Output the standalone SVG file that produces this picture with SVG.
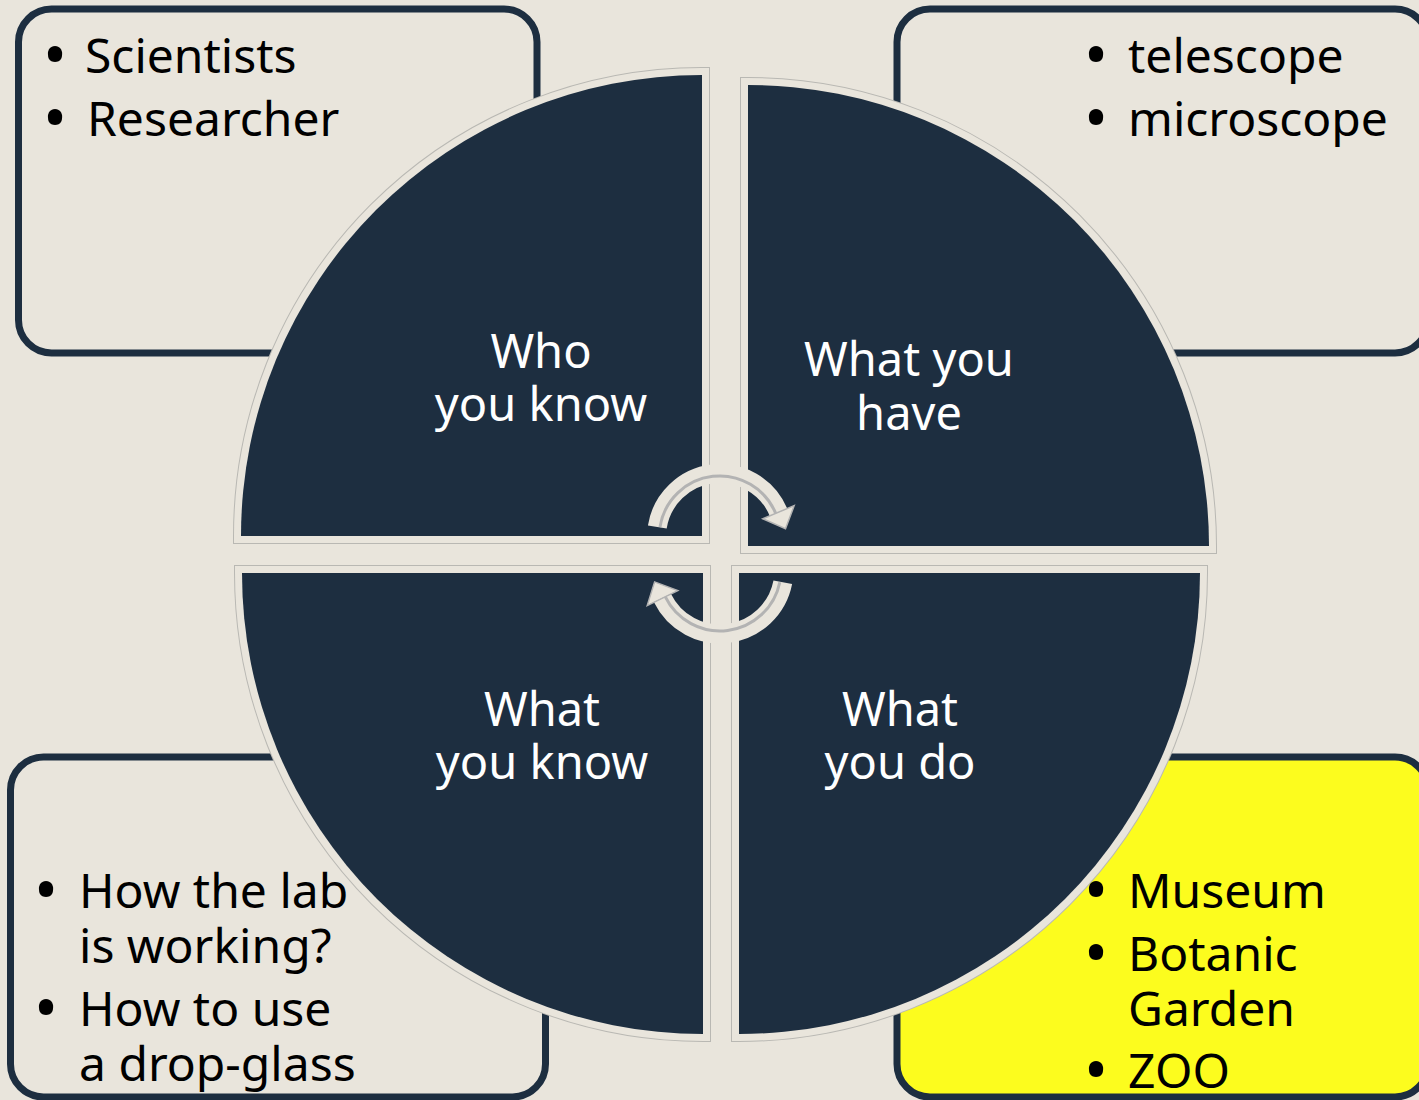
<svg xmlns="http://www.w3.org/2000/svg" width="1419" height="1100" viewBox="0 0 1419 1100">
  <style>
    .box { fill: #e9e5dc; stroke: #1d2e40; stroke-width: 7; }
    .box.hl { fill: #fcfc1e; }
    .rim { fill: none; stroke: #b9b8b3; stroke-width: 16; stroke-linejoin: miter; }
    .quad { fill: #1d2e40; stroke: #e9e5dc; stroke-width: 14; stroke-linejoin: miter; paint-order: stroke; }
    .lbl { font-family: "Noto Sans", "Open Sans", sans-serif; font-size: 47px; fill: #ffffff; text-anchor: middle; }
    .list { font-family: "Noto Sans", "Open Sans", sans-serif; font-size: 48px; fill: #000000; }
    .list .b { font-size: 64px; }
    .band { fill: none; stroke: #e9e5dc; stroke-width: 19; }
    .band-line { fill: none; stroke: #b3b3b3; stroke-width: 3; }
    .head { fill: #e9e5dc; stroke: #b3b3b3; stroke-width: 1.5; stroke-linejoin: miter; }
  </style>
  <rect width="1419" height="1100" fill="#e9e5dc"/>

  <!-- list boxes behind the wheel -->
  <g id="box-who">
    <rect class="box" x="18.5" y="9" width="518.5" height="344" rx="33"/>
    <text class="list"><tspan class="b" x="43" y="77">•</tspan><tspan x="85" y="73">Scientists</tspan><tspan class="b" x="43" y="140">•</tspan><tspan x="87" y="136">Researcher</tspan></text>
  </g>
  <g id="box-have">
    <rect class="box" x="897" y="9" width="531" height="344" rx="33"/>
    <text class="list"><tspan class="b" x="1084" y="77">•</tspan><tspan x="1128" y="73">telescope</tspan><tspan class="b" x="1084" y="140">•</tspan><tspan x="1128" y="136">microscope</tspan></text>
  </g>
  <g id="box-know">
    <rect class="box" x="10.5" y="757" width="535" height="340" rx="33"/>
    <text class="list"><tspan class="b" x="34" y="912">•</tspan><tspan x="79" y="908">How the lab</tspan><tspan x="79" y="963">is working?</tspan><tspan class="b" x="34" y="1030">•</tspan><tspan x="79" y="1026">How to use</tspan><tspan x="79" y="1081">a drop-glass</tspan></text>
  </g>
  <g id="box-do">
    <rect class="box hl" x="897" y="757" width="531" height="340" rx="33"/>
  </g>

  <!-- wheel quadrants -->
  <g id="quad-who">
    <path class="rim" d="M702,536 L241,536 A461,461 0 0 1 702,75 Z"/>
    <path class="quad" d="M702,536 L241,536 A461,461 0 0 1 702,75 Z"/>
    <text class="lbl"><tspan x="541" y="368">Who</tspan><tspan x="541" y="421">you know</tspan></text>
  </g>
  <g id="quad-have">
    <path class="rim" d="M748,546 L748,85 A461,461 0 0 1 1209,546 Z"/>
    <path class="quad" d="M748,546 L748,85 A461,461 0 0 1 1209,546 Z"/>
    <text class="lbl"><tspan x="909" y="376">What you</tspan><tspan x="909" y="430">have</tspan></text>
  </g>
  <g id="quad-do">
    <path class="rim" d="M739,573 L1200,573 A461,461 0 0 1 739,1034 Z"/>
    <path class="quad" d="M739,573 L1200,573 A461,461 0 0 1 739,1034 Z"/>
    <text class="lbl"><tspan x="900" y="726">What</tspan><tspan x="900" y="779">you do</tspan></text>
  </g>
  <g id="quad-know">
    <path class="rim" d="M703,573 L703,1034 A461,461 0 0 1 242,573 Z"/>
    <path class="quad" d="M703,573 L703,1034 A461,461 0 0 1 242,573 Z"/>
    <text class="lbl"><tspan x="542" y="726">What</tspan><tspan x="542" y="779">you know</tspan></text>
  </g>

  <!-- text of the highlighted box sits over the wheel edge -->
  <g id="box-do-text">
    <text class="list"><tspan class="b" x="1084" y="912">•</tspan><tspan x="1128" y="908">Museum</tspan><tspan class="b" x="1084" y="975">•</tspan><tspan x="1128" y="971">Botanic</tspan><tspan x="1128" y="1026">Garden</tspan><tspan class="b" x="1084" y="1092">•</tspan><tspan x="1128" y="1088">ZOO</tspan></text>
  </g>

  <!-- circular arrows in the middle -->
  <g id="connectors">
    <path class="band" d="M657.3,527 A63.5,63.5 0 0 1 778.5,512.2"/>
    <path class="band-line" d="M660,527 A60.5,60.5 0 0 1 775.7,513.4"/>
    <polygon class="head" points="794.2,505.6 785.5,528.8 762.8,518.8"/>
    <path class="band" d="M782.8,582.2 A64,64 0 0 1 662.5,598.1"/>
    <path class="band-line" d="M779.8,582.2 A61,61 0 0 1 665.2,596.7"/>
    <polygon class="head" points="647.2,605.6 654.6,581.9 677.8,590.6"/>
  </g>
</svg>
